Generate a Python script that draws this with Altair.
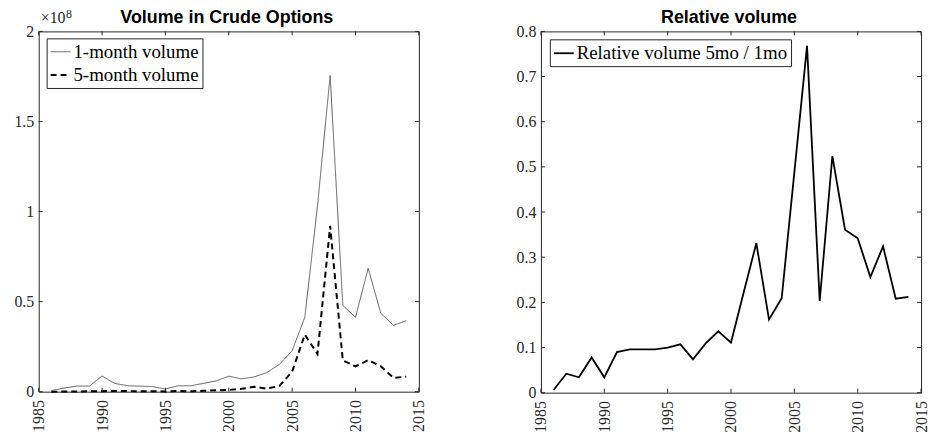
import altair as alt
import pandas as pd

# ---- data -------------------------------------------------------------
YEARS = [1986, 1987, 1988, 1989, 1990, 1991, 1992, 1993, 1994, 1995,
         1996, 1997, 1998, 1999, 2000, 2001, 2002, 2003, 2004, 2005,
         2006, 2007, 2008, 2009, 2010, 2011, 2012, 2013, 2014]

# traded volume, contracts
ONE_MONTH = [0.006e8, 0.020e8, 0.031e8, 0.031e8, 0.087e8, 0.046e8, 0.033e8,
             0.031e8, 0.028e8, 0.015e8, 0.033e8, 0.033e8, 0.046e8, 0.060e8,
             0.086e8, 0.071e8, 0.082e8, 0.106e8, 0.152e8, 0.227e8, 0.413e8,
             1.030e8, 1.755e8, 0.479e8, 0.413e8, 0.685e8, 0.435e8, 0.368e8,
             0.394e8]
FIVE_MONTH = [0.0000e8, 0.0008e8, 0.0011e8, 0.0024e8, 0.0030e8, 0.0041e8,
              0.0032e8, 0.0030e8, 0.0027e8, 0.0015e8, 0.0035e8, 0.0024e8,
              0.0050e8, 0.0082e8, 0.0095e8, 0.0158e8, 0.0270e8, 0.0170e8,
              0.0320e8, 0.1110e8, 0.3170e8, 0.2090e8, 0.9200e8, 0.1730e8,
              0.1410e8, 0.1750e8, 0.1410e8, 0.0765e8, 0.0835e8]
RELATIVE = [0.006, 0.042, 0.034, 0.078, 0.034, 0.090, 0.096, 0.096, 0.096,
            0.100, 0.107, 0.074, 0.109, 0.136, 0.111, 0.222, 0.331, 0.162,
            0.209, 0.488, 0.768, 0.203, 0.524, 0.361, 0.342, 0.256, 0.324,
            0.208, 0.212]

SERIES_LEFT = ["1-month volume", "5-month volume"]
SERIES_RIGHT = ["Relative volume 5mo / 1mo"]
TITLE_LEFT = "Volume in Crude Options"
TITLE_RIGHT = "Relative volume"

X_TICKS = [1985, 1990, 1995, 2000, 2005, 2010, 2015]
LEFT_Y_TICKS = [0, 0.5e8, 1.0e8, 1.5e8, 2.0e8]
RIGHT_Y_TICKS = [0, 0.1, 0.2, 0.3, 0.4, 0.5, 0.6, 0.7, 0.8]

# ---- styling ----------------------------------------------------------
SERIF = "Liberation Serif"
SANS = "Liberation Sans"
AX = "#262626"
W = 383
H_LEFT = 363
H_RIGHT = 364
TICK = 4
LABEL_SIZE = 16

vol_df = pd.DataFrame({
    "year": YEARS * 2,
    "value": ONE_MONTH + FIVE_MONTH,
    "series": [SERIES_LEFT[0]] * len(YEARS) + [SERIES_LEFT[1]] * len(YEARS),
})
rel_df = pd.DataFrame({"year": YEARS, "value": RELATIVE,
                       "series": SERIES_RIGHT * len(YEARS)})
xt_df = pd.DataFrame({"year": X_TICKS})
lyt_df = pd.DataFrame({"value": LEFT_Y_TICKS})
ryt_df = pd.DataFrame({"value": RIGHT_Y_TICKS})
one_row = pd.DataFrame({"k": [0]})

x_scale = alt.Scale(domain=[1985, 2015], nice=False, zero=False)
x_axis = alt.Axis(values=X_TICKS, format="d", labelAngle=-90, ticks=False,
                  tickSize=0, domain=False, grid=False, labelPadding=8,
                  labelFont=SERIF, labelFontSize=LABEL_SIZE, labelColor=AX,
                  title=None)


def y_axis(values, expr):
    return alt.Axis(values=values, labelExpr=expr, ticks=False, tickSize=0,
                    domain=False, grid=False, labelPadding=5,
                    labelFont=SERIF, labelFontSize=LABEL_SIZE, labelColor=AX,
                    minExtent=38, maxExtent=38, title=None)


def inward_ticks(y_field_df, y_scale, height):
    """Box ticks pointing into the plot on all four sides."""
    x = alt.X("year:Q", scale=x_scale)
    y = alt.Y("value:Q", scale=y_scale)
    bottom = alt.Chart(xt_df).mark_rule(color=AX, strokeWidth=1).encode(
        x=x, y=alt.value(height), y2=alt.value(height - TICK))
    top = alt.Chart(xt_df).mark_rule(color=AX, strokeWidth=1).encode(
        x=x, y=alt.value(0), y2=alt.value(TICK))
    left = alt.Chart(y_field_df).mark_rule(color=AX, strokeWidth=1).encode(
        y=y, x=alt.value(0), x2=alt.value(TICK))
    right = alt.Chart(y_field_df).mark_rule(color=AX, strokeWidth=1).encode(
        y=y, x=alt.value(W - TICK), x2=alt.value(W))
    return [bottom, top, left, right]


def panel_title(text):
    return alt.Chart(one_row).mark_text(
        text=text, align="center", baseline="alphabetic", font=SANS,
        fontSize=18, fontWeight="bold", color="black",
    ).encode(x=alt.value(W / 2 - 2), y=alt.value(-8))


# ---- left panel: volumes ----------------------------------------------
ly_scale = alt.Scale(domain=[0, 2e8], nice=False, zero=True)
left_lines = alt.Chart(vol_df).mark_line().encode(
    x=alt.X("year:Q", scale=x_scale, axis=x_axis),
    y=alt.Y("value:Q", scale=ly_scale,
            axis=y_axis(LEFT_Y_TICKS, "format(datum.value / 1e8, '~g')")),
    color=alt.Color("series:N", title=None,
                    scale=alt.Scale(domain=SERIES_LEFT,
                                    range=["#4a4a4a", "#000000"]),
                    legend=alt.Legend(orient="none", legendX=8, legendY=7)),
    strokeDash=alt.StrokeDash("series:N", title=None,
                              scale=alt.Scale(domain=SERIES_LEFT,
                                              range=[[1, 0], [6, 4]])),
    strokeWidth=alt.StrokeWidth("series:N", title=None,
                                scale=alt.Scale(domain=SERIES_LEFT,
                                                range=[0.9, 2.0])),
)

# axis multiplier shown above the y axis
mult = alt.Chart(one_row).mark_text(
    text="×10", align="left", baseline="alphabetic", font=SERIF,
    fontSize=LABEL_SIZE, color=AX).encode(x=alt.value(2), y=alt.value(-8))
mult_exp = alt.Chart(one_row).mark_text(
    text="8", align="left", baseline="alphabetic", font=SERIF,
    fontSize=12, color=AX).encode(x=alt.value(27.5), y=alt.value(-13))

left = alt.layer(
    left_lines, *inward_ticks(lyt_df, ly_scale, H_LEFT), mult, mult_exp,
    panel_title(TITLE_LEFT),
).properties(width=W, height=H_LEFT)

# ---- right panel: relative volume -------------------------------------
ry_scale = alt.Scale(domain=[0, 0.8], nice=False, zero=True)
right_line = alt.Chart(rel_df).mark_line(strokeWidth=1.8).encode(
    x=alt.X("year:Q", scale=x_scale, axis=x_axis),
    y=alt.Y("value:Q", scale=ry_scale,
            axis=y_axis(RIGHT_Y_TICKS, "format(datum.value, '~g')")),
    color=alt.Color("series:N", title=None,
                    scale=alt.Scale(domain=SERIES_RIGHT, range=["#000000"]),
                    legend=alt.Legend(orient="none", legendX=9, legendY=8,
                                      symbolStrokeWidth=1.8)),
)

right = alt.layer(
    right_line, *inward_ticks(ryt_df, ry_scale, H_RIGHT),
    panel_title(TITLE_RIGHT),
).properties(width=W, height=H_RIGHT)

chart = alt.hconcat(left, right, spacing=75).resolve_scale(
    color="independent", strokeDash="independent", strokeWidth="independent",
    y="independent",
).properties(
    padding={"left": 0, "top": 6, "right": 0, "bottom": 0},
    background="white",
).configure_view(
    stroke=AX, strokeWidth=1,
).configure_legend(
    strokeColor=AX, fillColor="white", padding=3, cornerRadius=0,
    labelFont=SERIF, labelFontSize=19, labelColor="black", labelOffset=2,
    labelLimit=400, symbolType="stroke", symbolSize=400, rowPadding=2,
)

chart.save("out.html", embed_options={"renderer": "svg", "actions": False})
